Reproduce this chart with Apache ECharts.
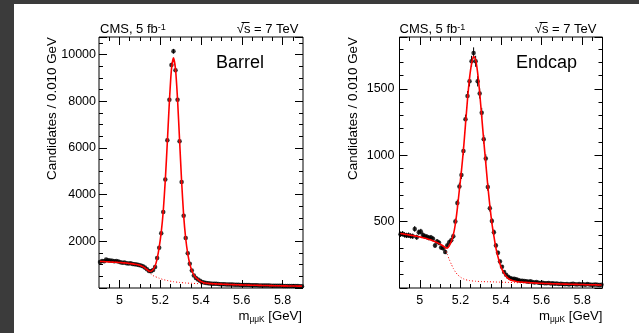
<!DOCTYPE html>
<html>
<head>
<meta charset="utf-8">
<title>m(μμK) barrel / endcap</title>
<script src="https://cdn.jsdelivr.net/npm/echarts@6/dist/echarts.min.js"></script>
<style>
  html, body { margin: 0; padding: 0; background: #fff; }
  #chart { width: 639px; height: 333px; }
</style>
</head>
<body>
<div id="chart"></div>
<script>
const FONT = '"Liberation Sans", Arial, Helvetica, sans-serif';

// binning: 0.010 GeV bins from 4.9 to 5.9
const BIN_LO = 4.9;
const BIN_W = 0.01;
const massBins = [];
for (let i = 0; i < 100; i++) massBins.push(+(BIN_LO + BIN_W * (i + 0.5)).toFixed(3));

const xMajorTicks = [5.0, 5.2, 5.4, 5.6, 5.8];
const xMinorTicks = [4.95, 5.05, 5.1, 5.15, 5.25, 5.3, 5.35, 5.45, 5.5, 5.55, 5.65, 5.7, 5.75, 5.85];

// Barrel
const barrelCounts = [
  1110, 1160, 1150, 1220, 1190, 1180, 1170, 1150, 1160, 1140,
  1100, 1080, 1090, 1060, 1050, 1060, 1030, 1020, 1010, 990,
  960, 930, 880, 800, 730, 720, 770, 900, 1280, 1720,
  2340, 3260, 4650, 6330, 8060, 9550, 10140, 9330, 8060, 6280,
  4540, 3090, 2140, 1490, 1040, 750, 540, 430, 360, 310,
  260, 235, 215, 200, 195, 185, 180, 178, 170, 165,
  160, 160, 155, 150, 150, 145, 142, 140, 138, 132,
  130, 130, 125, 125, 120, 118, 118, 114, 112, 110,
  108, 108, 104, 102, 100, 100, 96, 96, 94, 92,
  90, 90, 88, 86, 86, 84, 82, 82, 80, 80
];
const barrelFit = [
  1140, 1135, 1130, 1125, 1120, 1115, 1110, 1105, 1100, 1095,
  1090, 1080, 1075, 1065, 1055, 1045, 1035, 1020, 1005, 985,
  955, 915, 860, 790, 730, 720, 790, 940, 1260, 1740,
  2380, 3300, 4620, 6250, 7980, 9350, 9860, 9380, 8080, 6330,
  4560, 3100, 2120, 1470, 1030, 750, 560, 440, 365, 300,
  255, 228, 212, 200, 192, 186, 180, 175, 170, 166,
  162, 158, 155, 152, 149, 146, 143, 140, 137, 134,
  131, 129, 126, 124, 121, 119, 117, 115, 113, 111,
  109, 107, 105, 103, 101, 99, 97, 96, 94, 93,
  91, 90, 88, 87, 86, 84, 83, 82, 81, 80
];
const barrelBkg = [
  1140, 1135, 1130, 1125, 1120, 1115, 1110, 1105, 1100, 1095,
  1090, 1080, 1075, 1065, 1055, 1045, 1035, 1020, 1005, 985,
  955, 912, 850, 755, 670, 590, 530, 490, 455, 420,
  390, 360, 340, 320, 300, 285, 270, 258, 248, 238,
  230, 222, 215, 209, 204, 200, 196, 192, 189, 186,
  183, 180, 177, 175, 173, 171, 169, 167, 165, 163,
  161, 157, 154, 151, 148, 145, 142, 139, 136, 133,
  130, 128, 125, 123, 120, 118, 116, 114, 112, 110,
  108, 106, 104, 102, 100, 98, 96, 95, 93, 92,
  90, 89, 87, 86, 85, 83, 82, 81, 80, 79
];

// Endcap
const endcapCounts = [
  405, 408, 400, 396, 398, 392, 390, 445, 382, 420,
  425, 400, 390, 385, 378, 380, 370, 320, 350, 340,
  305, 300, 272, 320, 345, 360, 390, 500, 640, 765,
  850, 1032, 1270, 1445, 1557, 1707, 1770, 1707, 1557, 1465,
  1320, 1120, 975, 760, 600, 505, 420, 320, 265, 200,
  160, 120, 100, 85, 75, 70, 70, 65, 60, 55,
  55, 52, 50, 48, 50, 45, 42, 45, 40, 38,
  40, 36, 35, 38, 34, 35, 32, 33, 30, 32,
  30, 28, 30, 27, 30, 32, 28, 27, 30, 26,
  28, 25, 30, 27, 25, 24, 26, 25, 22, 24
];
const endcapFit = [
  410, 408, 405, 403, 400, 397, 395, 392, 389, 386,
  383, 379, 375, 371, 366, 361, 355, 349, 342, 334,
  326, 316, 305, 300, 318, 350, 400, 480, 600, 740,
  880, 1040, 1230, 1420, 1580, 1690, 1745, 1720, 1620, 1470,
  1290, 1110, 940, 770, 620, 490, 390, 300, 235, 180,
  140, 110, 88, 72, 62, 56, 52, 49, 47, 45,
  44, 43, 42, 41, 40, 39, 38, 37, 36, 36,
  35, 34, 34, 33, 33, 32, 32, 31, 31, 30,
  30, 29, 29, 28, 28, 28, 27, 27, 26, 26,
  26, 25, 25, 25, 24, 24, 24, 23, 23, 23
];
const endcapBkg = [
  410, 408, 405, 403, 400, 397, 395, 392, 389, 386,
  383, 379, 375, 371, 366, 361, 355, 349, 342, 334,
  326, 314, 290, 255, 215, 180, 148, 122, 102, 88,
  77, 69, 63, 59, 56, 54, 52, 51, 50, 49,
  48, 48, 47, 47, 47, 46, 46, 45, 45, 44,
  44, 43, 43, 42, 42, 41, 41, 40, 40, 39,
  39, 39, 38, 38, 37, 37, 36, 36, 35, 35,
  34, 33, 33, 32, 32, 31, 31, 30, 30, 29,
  29, 28, 28, 27, 27, 27, 26, 26, 25, 25,
  25, 24, 24, 24, 23, 23, 23, 22, 22, 22
];

const panels = [
  { name: 'Barrel', counts: barrelCounts, fit: barrelFit, bkg: barrelBkg,
    yMax: 10750, yStep: 2000, yMinor: 4, grid: { left: 99, top: 37, width: 204, height: 251 },
    labelMargin: 3, cmsX: 100, sqrtRight: 298.5, tagX: 216, yTitleX: 52, xTitleRight: 302 },
  { name: 'Endcap', counts: endcapCounts, fit: endcapFit, bkg: endcapBkg,
    yMax: 1890, yStep: 500, yMinor: 5, grid: { left: 399.5, top: 37, width: 203, height: 251 },
    labelMargin: 5, cmsX: 399.5, sqrtRight: 596.5, tagX: 516, yTitleX: 353.3, xTitleRight: 602.5 }
];

const grids = [], xAxes = [], yAxes = [], series = [], graphics = [];

// dark frame strips left / top
graphics.push({ type: 'rect', shape: { x: 0, y: 0, width: 14, height: 333 }, style: { fill: '#3b3b3b' } });
graphics.push({ type: 'rect', shape: { x: 0, y: 0, width: 639, height: 4 }, style: { fill: '#3b3b3b' } });

panels.forEach(function(p, g) {
  grids.push(Object.assign({ show: true, borderColor: '#000', borderWidth: 1, backgroundColor: 'transparent' }, p.grid));

  const xBase = { type: 'value', gridIndex: g, min: 4.9, max: 5.9, axisLine: { show: false }, splitLine: { show: false } };
  const tickStyle = { color: '#000', width: 1 };
  // bottom major (labels), bottom minor, top major, top minor
  xAxes.push(Object.assign({}, xBase, {
    position: 'bottom',
    axisTick: { inside: true, length: 8, customValues: xMajorTicks, lineStyle: tickStyle },
    axisLabel: { customValues: xMajorTicks, margin: 6, color: '#000', fontFamily: FONT, fontSize: 12.5,
      formatter: function(v) { return String(+(+v).toFixed(1)); } }
  }));
  xAxes.push(Object.assign({}, xBase, {
    position: 'bottom',
    axisTick: { inside: true, length: 4, customValues: xMinorTicks, lineStyle: tickStyle },
    axisLabel: { show: false }
  }));
  xAxes.push(Object.assign({}, xBase, {
    position: 'top',
    axisTick: { inside: true, length: 8, customValues: xMajorTicks, lineStyle: tickStyle },
    axisLabel: { show: false }
  }));
  xAxes.push(Object.assign({}, xBase, {
    position: 'top',
    axisTick: { inside: true, length: 4, customValues: xMinorTicks, lineStyle: tickStyle },
    axisLabel: { show: false }
  }));

  const yBase = { type: 'value', gridIndex: g, min: 0, max: p.yMax, interval: p.yStep,
    axisLine: { show: false }, splitLine: { show: false },
    axisTick: { inside: true, length: 8, lineStyle: tickStyle },
    minorTick: { show: true, splitNumber: p.yMinor, length: 4, lineStyle: tickStyle } };
  yAxes.push(Object.assign({}, yBase, {
    position: 'left',
    axisLabel: { margin: p.labelMargin, color: '#000', fontFamily: FONT, fontSize: 12.5,
      formatter: function(v) { return (v === 0 || v % p.yStep !== 0) ? '' : String(v); } }
  }));
  yAxes.push(Object.assign({}, yBase, { position: 'right', axisLabel: { show: false } }));

  const xi = 4 * g, yi = 2 * g;
  // Poisson error bars
  series.push({
    type: 'custom', xAxisIndex: xi, yAxisIndex: yi, z: 2, silent: true, clip: true,
    encode: { x: 0, y: 1 },
    data: p.counts.map(function(v, i) { return [massBins[i], v, Math.sqrt(v)]; }),
    renderItem: function(params, api) {
      const m = api.value(0), v = api.value(1), e = api.value(2);
      const a = api.coord([m, v + e]), b = api.coord([m, v - e]);
      return { type: 'line', shape: { x1: a[0], y1: a[1], x2: b[0], y2: b[1] }, style: { stroke: '#000', lineWidth: 1 } };
    }
  });
  series.push({
    type: 'scatter', xAxisIndex: xi, yAxisIndex: yi, z: 3, silent: true,
    symbol: 'circle', symbolSize: 4.5, itemStyle: { color: '#000' },
    data: p.counts.map(function(v, i) { return [massBins[i], v]; })
  });
  series.push({
    type: 'line', xAxisIndex: xi, yAxisIndex: yi, z: 4, silent: true, showSymbol: false, smooth: 0.2,
    lineStyle: { color: '#ff0000', width: 1, type: [1, 2] },
    data: p.bkg.map(function(v, i) { return [massBins[i], v]; })
  });
  series.push({
    type: 'line', xAxisIndex: xi, yAxisIndex: yi, z: 5, silent: true, showSymbol: false, smooth: 0.2,
    lineStyle: { color: '#ff0000', width: 1.6 },
    data: p.fit.map(function(v, i) { return [massBins[i], v]; })
  });

  // texts
  graphics.push({ type: 'text', x: p.cmsX, y: 29.5, style: {
    text: '{n|CMS, 5 fb}{s|-1}', align: 'left', verticalAlign: 'middle', textAlign: 'left', textVerticalAlign: 'middle',
    rich: { n: { fontSize: 13, fontFamily: FONT, fill: '#000', color: '#000' },
            s: { fontSize: 9, fontFamily: FONT, fill: '#000', color: '#000', verticalAlign: 'top' } } } });
  graphics.push({ type: 'text', x: p.sqrtRight, y: 29.5, style: {
    text: '√s = 7 TeV', fontSize: 13, fontFamily: FONT, fill: '#000',
    align: 'right', verticalAlign: 'middle', textAlign: 'right', textVerticalAlign: 'middle' } });
  graphics.push({ type: 'line', shape: { x1: p.sqrtRight - 57, y1: 22.5, x2: p.sqrtRight - 49, y2: 22.5 },
    style: { stroke: '#000', lineWidth: 1 } });
  graphics.push({ type: 'text', x: p.tagX, y: 63.5, style: {
    text: p.name, fontSize: 18, fontFamily: FONT, fill: '#000',
    align: 'left', verticalAlign: 'middle', textAlign: 'left', textVerticalAlign: 'middle' } });
  graphics.push({ type: 'text', x: p.yTitleX, y: 37, rotation: Math.PI / 2, style: {
    text: 'Candidates / 0.010 GeV', fontSize: 13.4, fontFamily: FONT, fill: '#000',
    align: 'right', verticalAlign: 'middle', textAlign: 'right', textVerticalAlign: 'middle' } });
  graphics.push({ type: 'text', x: p.xTitleRight, y: 316, style: {
    text: '{m|m}{s|μμK}{m| [GeV]}', align: 'right', verticalAlign: 'middle', textAlign: 'right', textVerticalAlign: 'middle',
    rich: { m: { fontSize: 13.2, fontFamily: FONT, fill: '#000', color: '#000', lineHeight: 15 },
            s: { fontSize: 8.4, fontFamily: FONT, fill: '#000', color: '#000', verticalAlign: 'bottom', lineHeight: 8 } } } });
});

const chart = echarts.init(document.getElementById('chart'), null, { renderer: 'canvas' });
chart.setOption({
  animation: false,
  backgroundColor: '#fff',
  grid: grids,
  xAxis: xAxes,
  yAxis: yAxes,
  series: series,
  graphic: { elements: graphics }
});
</script>
</body>
</html>
